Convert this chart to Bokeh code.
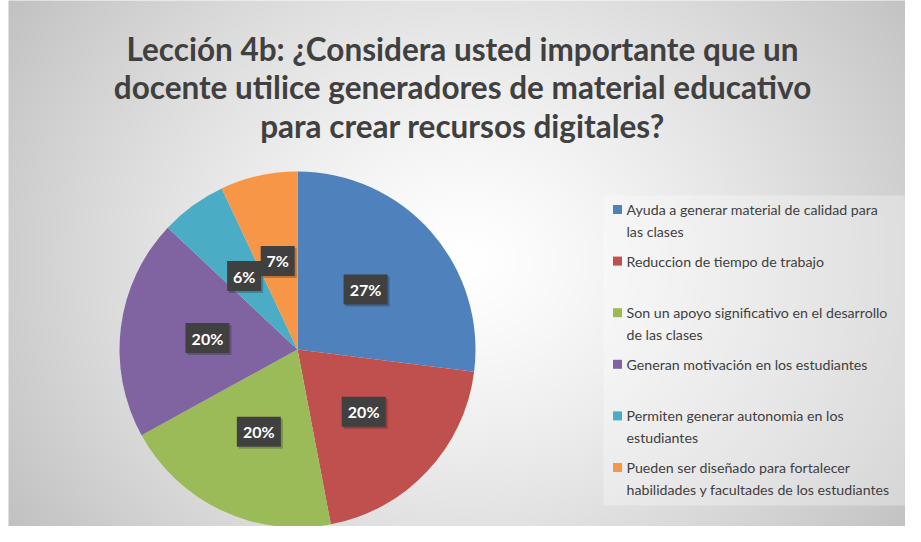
import numpy as np
from bokeh.plotting import figure
from bokeh.models import Range1d, ColumnDataSource
from bokeh.core.properties import value
from bokeh.embed import file_html
from bokeh.resources import INLINE

# ---- data ----
title_lines = [
    "Lección 4b: ¿Considera usted importante que un",
    "docente utilice generadores de material educativo",
    "para crear recursos digitales?",
]
categories = [
    "Ayuda a generar material de calidad para\nlas clases",
    "Reduccion de tiempo de trabajo",
    "Son un apoyo significativo en el desarrollo\nde las clases",
    "Generan motivación en los estudiantes",
    "Permiten generar autonomia en los\nestudiantes",
    "Pueden ser diseñado para fortalecer\nhabilidades y facultades de los estudiantes",
]
values = [27, 20, 20, 20, 6, 7]
colors = ["#4f81bd", "#c0504d", "#9bbb59", "#8064a2", "#4bacc6", "#f79646"]

W, H = 905, 526
FONT = "Lato"
TXT = "#404040"

p = figure(width=W, height=H, output_backend="svg", toolbar_location=None,
           x_range=Range1d(0, W), y_range=Range1d(0, H), min_border=0,
           background_fill_color="white", border_fill_color="white")
p.axis.visible = False
p.grid.visible = False
p.outline_line_color = None

def Y(py):
    return H - py

# ---- background radial gradient ----
gx0, gy0 = 8, 12
gh, gw = 132, 230
yy, xx = np.mgrid[0:gh, 0:gw]
dx = (xx + 0.5) / gw * 2 - 1
dy = (yy + 0.5) / gh * 2 - 1
d = np.clip(np.sqrt(dx ** 2 + 0.45 * dy ** 2) / np.sqrt(1.45), 0, 1)
g = (255 - 62 * d ** 1.3).astype(np.uint32)
img = (255 << 24) | (g << 16) | (g << 8) | g
p.image_rgba(image=[img.astype(np.uint32)], x=gx0, y=0, dw=W - gx0 + 16, dh=Y(gy0) + 16)

# ---- title ----
p.text(x=[462] * 3, y=[Y(48), Y(86), Y(125)], text=title_lines,
       text_font=value(FONT), text_font_style="bold", text_font_size="31.5px",
       text_color=TXT, text_align="center", text_baseline="middle")

# ---- pie ----
vals = np.array(values, dtype=float)
frac = vals / vals.sum()
cum = np.concatenate([[0], np.cumsum(frac)])
start = np.pi / 2 - cum[:-1] * 2 * np.pi
end = np.pi / 2 - cum[1:] * 2 * np.pi
cx, cy, R = 297, Y(349), 178
src = ColumnDataSource(dict(start=start, end=end, color=colors))
p.wedge(x=cx, y=cy, radius=R, radius_units="screen", start_angle="start",
        end_angle="end", direction="clock", fill_color="color",
        line_color=None, source=src)

mid = (start + end) / 2
lx = cx + 0.51 * R * np.cos(mid)
ly = cy + 0.51 * R * np.sin(mid)
labels = [f"{v}%" for v in values]
bw = [44 if len(s) > 2 else 34 for s in labels]
p.rect(x=lx + 2, y=ly - 2, width=bw, height=30, width_units="screen",
       height_units="screen", fill_color="black", fill_alpha=0.22, line_color=None)
p.rect(x=lx, y=ly, width=bw, height=30, width_units="screen",
       height_units="screen", fill_color="#404040", line_color=None)
p.text(x=lx, y=ly, text=labels, text_font=value(FONT), text_font_style="bold",
       text_font_size="16px", text_color="white", text_align="center",
       text_baseline="middle")

# ---- legend ----
p.quad(left=603, right=W + 10, top=Y(195), bottom=Y(505), fill_color="white",
       fill_alpha=0.3, line_color=None)
first_y = 209
step = 51.6
lh = 22
mx, my, tx, ty, tt = [], [], [], [], []
for i, cat in enumerate(categories):
    py0 = first_y + i * step
    mx.append(617)
    my.append(Y(py0))
    for j, line in enumerate(cat.split("\n")):
        tx.append(626)
        ty.append(Y(py0 + j * lh))
        tt.append(line)
p.scatter(x=mx, y=my, marker="square", size=9, fill_color=colors, line_color=None)
p.text(x=tx, y=ty, text=tt, text_font=value(FONT), text_font_size="14.2px",
       text_color=TXT, text_align="left", text_baseline="middle")

open("out.html", "w").write(file_html(p, INLINE))
